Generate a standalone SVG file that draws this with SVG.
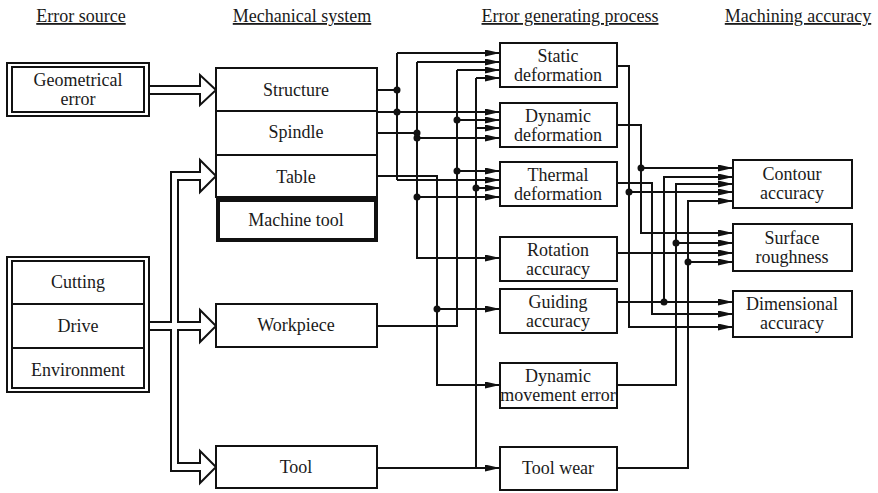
<svg xmlns="http://www.w3.org/2000/svg" width="878" height="493" viewBox="0 0 878 493" font-family="'Liberation Serif', 'Times New Roman', serif">
<style>
text{font-family:'Liberation Serif','Times New Roman',serif;font-size:18px;fill:#1a1a1a;text-anchor:middle}
.hd{text-decoration:underline}
.bx{fill:#fff;stroke:#111;stroke-width:2}
.thick{fill:#fff;stroke:#111;stroke-width:4}
.ln{fill:none;stroke:#111;stroke-width:2}
.ar{fill:none;stroke:#111;stroke-width:2;marker-end:url(#ah)}
.dot{fill:#111}
.hollow{fill:#fff;stroke:#111;stroke-width:2;stroke-linejoin:miter}
</style>
<defs>
<marker id="ah" viewBox="0 0 15 7" markerWidth="15" markerHeight="7" refX="15" refY="3.5" orient="auto" markerUnits="userSpaceOnUse">
<path d="M0,0 L15,3.5 L0,7 z" fill="#111"/>
</marker>
</defs>
<rect width="878" height="493" fill="#fff"/>

<g id="headers">
<text class="hd" x="81" y="22">Error source</text>
<text class="hd" x="302" y="22">Mechanical system</text>
<text class="hd" x="570" y="22">Error generating process</text>
<text class="hd" x="798" y="22">Machining accuracy</text>
</g>

<g id="hollow-connectors">
<path class="hollow" d="M149,86 H200 V75 L216,90 L200,105 V94 H149 Z"/>
<path class="hollow" d="M216,176 L200,192 V180 H178 V322 H200 V310 L216,326 L200,342 V330 H178 V463 H200 V451 L216,467 L200,483 V471 H171 V330 H149 V322 H171 V172 H200 V160 Z"/>
</g>

<g id="geometrical-error">
<rect class="bx" x="7" y="63" width="142" height="53"/>
<rect class="bx" x="12" y="67" width="132" height="45"/>
<text x="78" y="86">Geometrical</text>
<text x="78" y="105">error</text>
</g>

<g id="cutting-drive-environment">
<rect class="bx" x="7" y="257" width="142" height="135"/>
<rect class="bx" x="12" y="261" width="132" height="127"/>
<line class="ln" x1="12" y1="304" x2="144" y2="304"/>
<line class="ln" x1="12" y1="348" x2="144" y2="348"/>
<text x="78" y="288">Cutting</text>
<text x="78" y="332">Drive</text>
<text x="78" y="376">Environment</text>
</g>

<g id="machine-tool">
<rect class="bx" x="216" y="68" width="161" height="129"/>
<line class="ln" x1="216" y1="111" x2="377" y2="111"/>
<line class="ln" x1="216" y1="155" x2="377" y2="155"/>
<text x="296" y="96">Structure</text>
<text x="296" y="138">Spindle</text>
<text x="296" y="183">Table</text>
<rect class="thick" x="218" y="200" width="158" height="40"/>
<text x="296" y="226">Machine tool</text>
</g>

<g id="workpiece">
<rect class="bx" x="216" y="304" width="161" height="43"/>
<text x="296" y="331">Workpiece</text>
</g>

<g id="tool">
<rect class="bx" x="216" y="446" width="161" height="42"/>
<text x="296" y="473">Tool</text>
</g>

<g id="static-deformation">
<rect class="bx" x="500" y="43" width="117" height="44"/>
<text x="558" y="62">Static</text>
<text x="558" y="81">deformation</text>
</g>
<g id="dynamic-deformation">
<rect class="bx" x="500" y="103" width="117" height="44"/>
<text x="558" y="122">Dynamic</text>
<text x="558" y="141">deformation</text>
</g>
<g id="thermal-deformation">
<rect class="bx" x="500" y="162" width="117" height="44"/>
<text x="558" y="181">Thermal</text>
<text x="558" y="200">deformation</text>
</g>
<g id="rotation-accuracy">
<rect class="bx" x="500" y="237" width="117" height="44"/>
<text x="558" y="256">Rotation</text>
<text x="558" y="275">accuracy</text>
</g>
<g id="guiding-accuracy">
<rect class="bx" x="500" y="289" width="117" height="44"/>
<text x="558" y="308">Guiding</text>
<text x="558" y="327">accuracy</text>
</g>
<g id="dynamic-movement-error">
<rect class="bx" x="500" y="363" width="117" height="45"/>
<text x="558" y="382">Dynamic</text>
<text x="558" y="401">movement error</text>
</g>
<g id="tool-wear">
<rect class="bx" x="500" y="447" width="117" height="43"/>
<text x="558" y="474">Tool wear</text>
</g>

<g id="contour-accuracy">
<rect class="bx" x="733" y="160" width="119" height="48"/>
<text x="792" y="180">Contour</text>
<text x="792" y="199">accuracy</text>
</g>
<g id="surface-roughness">
<rect class="bx" x="733" y="224" width="119" height="47"/>
<text x="792" y="244">Surface</text>
<text x="792" y="263">roughness</text>
</g>
<g id="dimensional-accuracy">
<rect class="bx" x="733" y="291" width="119" height="46"/>
<text x="792" y="310">Dimensional</text>
<text x="792" y="329">accuracy</text>
</g>

<g id="connectors">
<path class="ln" d="M377,90 H397 M377,112 H397 M397,53 V180"/>
<path class="ar" d="M397,53 H500"/>
<path class="ar" d="M397,112 H500"/>
<path class="ar" d="M397,180 H500"/>
<path class="ln" d="M377,133 H417"/>
<path class="ar" d="M417,62 V258 H500"/>
<path class="ar" d="M417,62 H500"/>
<path class="ar" d="M417,138 H500"/>
<path class="ar" d="M417,197 H500"/>
<path class="ar" d="M377,176 H437 V385 H500"/>
<path class="ar" d="M437,309 H500"/>
<path class="ln" d="M377,326 H457 V70"/>
<path class="ar" d="M457,70 H500"/>
<path class="ar" d="M457,120 H500"/>
<path class="ar" d="M457,171 H500"/>
<path class="ln" d="M476,78 V468"/>
<path class="ar" d="M377,468 H500"/>
<path class="ar" d="M476,78 H500"/>
<path class="ar" d="M476,128 H500"/>
<path class="ar" d="M476,188 H500"/>
<path class="ar" d="M617,66 H629 V327 H733"/>
<path class="ar" d="M629,192 H733"/>
<path class="ar" d="M617,125 H641 V233 H733"/>
<path class="ar" d="M641,168 H733"/>
<path class="ar" d="M617,183 H652 V314 H733"/>
<path class="ar" d="M617,253 H733"/>
<path class="ar" d="M617,302 H733"/>
<path class="ar" d="M664,302 V177 H733"/>
<path class="ar" d="M617,385 H676 V184 H733"/>
<path class="ar" d="M676,243 H733"/>
<path class="ar" d="M617,468 H688 V201 H733"/>
<path class="ar" d="M688,262 H733"/>
<g class="dot">
<circle cx="397" cy="90" r="3.5"/>
<circle cx="397" cy="112" r="3.5"/>
<circle cx="417" cy="133" r="3.5"/>
<circle cx="417" cy="138" r="3.5"/>
<circle cx="417" cy="197" r="3.5"/>
<circle cx="437" cy="309" r="3.5"/>
<circle cx="457" cy="120" r="3.5"/>
<circle cx="457" cy="171" r="3.5"/>
<circle cx="476" cy="188" r="3.5"/>
<circle cx="629" cy="192" r="3.5"/>
<circle cx="641" cy="168" r="3.5"/>
<circle cx="664" cy="302" r="3.5"/>
<circle cx="676" cy="243" r="3.5"/>
<circle cx="688" cy="262" r="3.5"/>
</g>
</g>
</svg>
